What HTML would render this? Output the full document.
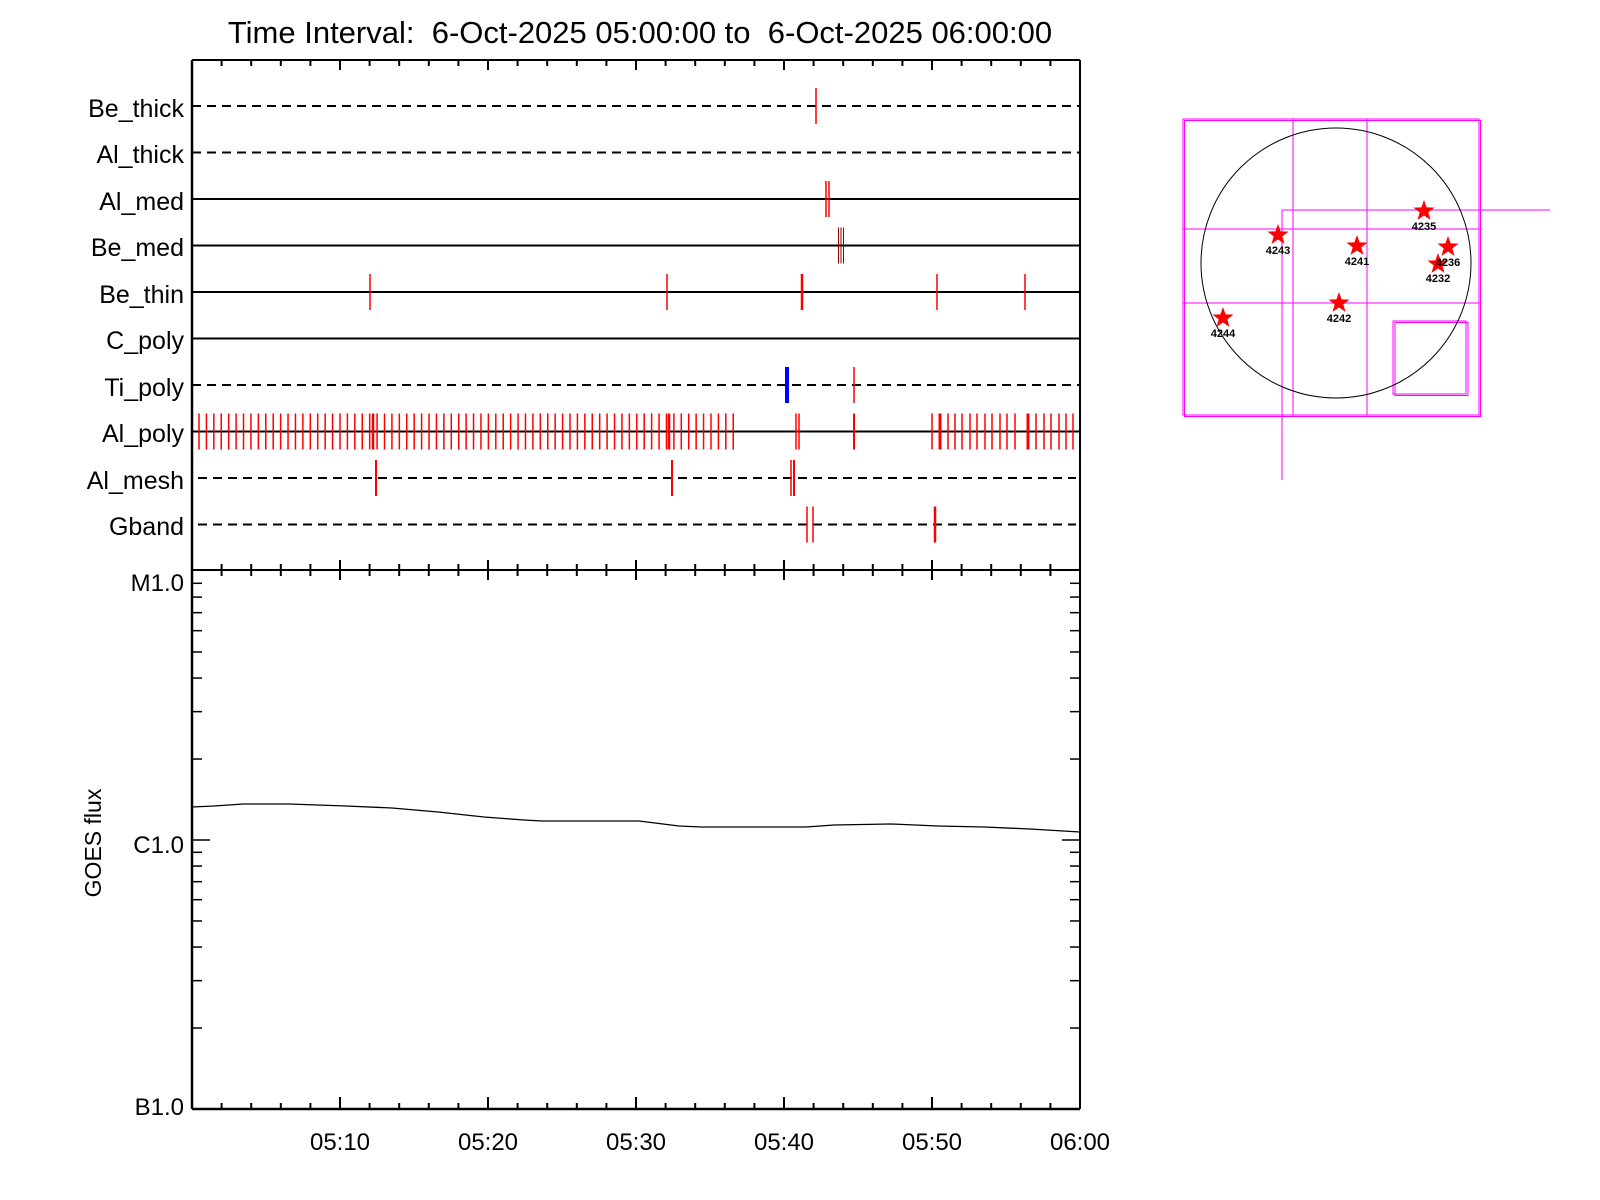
<!DOCTYPE html>
<html><head><meta charset="utf-8">
<style>
html,body{margin:0;padding:0;background:#fff;}
svg{display:block;font-family:"Liberation Sans",sans-serif;}
</style></head><body>
<svg id="s" width="1600" height="1200" viewBox="0 0 1600 1200" xmlns="http://www.w3.org/2000/svg">
<rect width="1600" height="1200" fill="#fff"/>
<text x="640" y="43" font-size="31" text-anchor="middle">Time Interval:&#160; 6-Oct-2025 05:00:00 to&#160; 6-Oct-2025 06:00:00</text>
<g font-size="25" text-anchor="end">
<text x="184" y="117">Be_thick</text>
<text x="184" y="163">Al_thick</text>
<text x="184" y="210">Al_med</text>
<text x="184" y="256">Be_med</text>
<text x="184" y="303">Be_thin</text>
<text x="184" y="349">C_poly</text>
<text x="184" y="396">Ti_poly</text>
<text x="184" y="442">Al_poly</text>
<text x="184" y="489">Al_mesh</text>
<text x="184" y="535">Gband</text>
</g>
<g font-size="24" text-anchor="end">
<text x="184" y="591">M1.0</text>
<text x="184" y="853">C1.0</text>
<text x="184" y="1115">B1.0</text>
</g>
<g font-size="24" text-anchor="middle">
<text x="340" y="1150">05:10</text>
<text x="488" y="1150">05:20</text>
<text x="636" y="1150">05:30</text>
<text x="784" y="1150">05:40</text>
<text x="932" y="1150">05:50</text>
<text x="1080" y="1150">06:00</text>
</g>
<text transform="translate(101,843) rotate(-90)" font-size="23" text-anchor="middle">GOES flux</text>
<g id="g"></g>
<g fill="none" stroke="#ff00ff" stroke-width="1">
<rect x="1183" y="119" width="296" height="296"/>
<rect x="1184.5" y="120.5" width="296" height="296"/>
<line x1="1293" y1="119" x2="1293" y2="415"/>
<line x1="1367" y1="119" x2="1367" y2="415"/>
<line x1="1183" y1="229" x2="1479" y2="229"/>
<line x1="1183" y1="303" x2="1479" y2="303"/>
<line x1="1282" y1="210" x2="1550" y2="210"/>
<line x1="1282" y1="210" x2="1282" y2="480"/>
<rect x="1393" y="321" width="73" height="73"/>
<rect x="1395" y="322.5" width="73" height="73"/>
</g>
<circle cx="1336" cy="263" r="135" fill="none" stroke="#000" stroke-width="1"/>
<g id="stars"></g>
<g font-size="11" text-anchor="middle" font-weight="bold">
<text x="1424" y="230">4235</text>
<text x="1278" y="254">4243</text>
<text x="1357" y="265">4241</text>
<text x="1448" y="266">4236</text>
<text x="1438" y="282">4232</text>
<text x="1339" y="322">4242</text>
<text x="1223" y="337">4244</text>
</g>
</svg>
<script>
(function(){
var NS="http://www.w3.org/2000/svg",g=document.getElementById('g');
function L(x1,y1,x2,y2,c,w,d){var e=document.createElementNS(NS,'line');e.setAttribute('x1',x1);e.setAttribute('y1',y1);e.setAttribute('x2',x2);e.setAttribute('y2',y2);e.setAttribute('stroke',c||'#000');e.setAttribute('stroke-width',w||1.5);if(d)e.setAttribute('stroke-dasharray',d);g.appendChild(e);}
var X0=192,X1=1080,T=60,M=570,B=1109;
var rows=[[106,1],[152.5,1],[199,0],[245.5,0],[292,0],[338.5,0],[385,1],[431.5,0],[478,1],[524.5,1]];
rows.forEach(function(r,i){var xs=(i>=8)?198:X0,xe=(i>=8)?1076:X1;L(xs,r[0],xe,r[0],'#000',2,r[1]?'9,6':null);});
function ev(x,row,c,w){var y=rows[row][0];L(x,y-18,x,y+18,c||'#f00',w||1.5);}
ev(816,0);ev(826,2);ev(829,2);
ev(838.5,3,'#800',1);ev(841,3,'#800',1);ev(843.5,3,'#800',1);
[370,667,937,1025].forEach(function(x){ev(x,4);});ev(802,4,'#f00',2.5);
ev(787,6,'#00f',4);ev(854,6);
for(var x=199;x<=734;x+=7.42)ev(x,7);
ev(373,7,'#f00',2.5);ev(669,7,'#f00',2.5);ev(796,7);ev(799,7);ev(854,7,'#f00',2);
[932,948,955,962,970,977,985,992,1000,1007,1015,1036,1044,1051,1059,1066,1073].forEach(function(x){ev(x,7);});
ev(940,7,'#f00',3);ev(1028,7,'#f00',3);
ev(376,8,'#f00',2);ev(672,8,'#f00',2);ev(791,8);ev(794,8,'#f00',2);
ev(807,9);ev(813,9);ev(935,9,'#f00',2.5);
L(X0,T,X1,T,'#000',2);L(X0,M,X1,M,'#000',2);L(X0,B,X1,B,'#000',2.5);
L(X0,T,X0,B,'#000',2.5);L(X1,T,X1,B,'#000',2);
for(var k=1;k<30;k++){var x=X0+k*29.6,maj=(k%5==0);var l=maj?10:6;
L(x,T,x,T+l,'#000',2);L(x,M-l,x,M+l,'#000',2);L(x,B,x,B-(maj?12:6),'#000',2);}
var D=269,yc=840;
for(var d=-7;d<=-5;d++){for(var m=1;m<=9;m++){var v=d+Math.log10(m);var y=yc-(v+6)*D;if(y<M+2||y>B-1)continue;var l=(m==1)?18:10;L(X0,y,X0+l,y,'#000',1.5);L(X1,y,X1-l,y,'#000',1.5);}}
var pts=[[192,807],[214,806],[243,804],[289,804],[346,806],[392,808],[438,812],[484,817],[524,820],[542,821],[639,821],[679,826],[702,827],[806,827],[834,825],[892,824],[938,826],[984,827],[1030,829],[1080,832]];
var p=document.createElementNS(NS,'polyline');p.setAttribute('points',pts.map(function(a){return a.join(',')}).join(' '));p.setAttribute('fill','none');p.setAttribute('stroke','#000');p.setAttribute('stroke-width','1.3');g.appendChild(p);
var sg=document.getElementById('stars');
[[1424,211],[1278,235],[1357,246],[1448,247],[1438,264],[1339,303],[1223,318]].forEach(function(c){
var s='';for(var i=0;i<10;i++){var r=(i%2)?4.5:11,a=-Math.PI/2+i*Math.PI/5;s+=(c[0]+r*Math.cos(a)).toFixed(1)+','+(c[1]+r*Math.sin(a)).toFixed(1)+' ';}
var e=document.createElementNS(NS,'polygon');e.setAttribute('points',s);e.setAttribute('fill','#f00');sg.appendChild(e);});
})();
</script>
</body></html>
